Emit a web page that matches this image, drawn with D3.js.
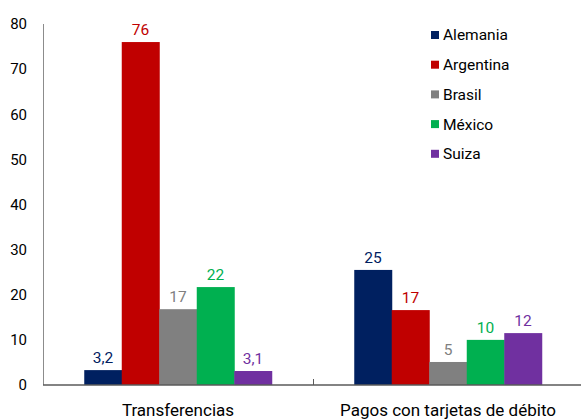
<!DOCTYPE html>
<html>
<head>
<meta charset="utf-8">
<script src="https://cdn.jsdelivr.net/npm/d3@7"></script>
<style>
  body { margin: 0; background: white; }
  svg { font-family: Roboto, "Noto Sans", sans-serif; display: block; }
</style>
</head>
<body>
<svg width="581" height="419"></svg>
<script>
var categories = ["Transferencias", "Pagos con tarjetas de débito"];
var countries = ["Alemania", "Argentina", "Brasil", "México", "Suiza"];
var colors = ["#002060", "#C00000", "#808080", "#00B050", "#7030A0"];

var transferValues = [3.3, 76, 16.8, 21.7, 3.1];
var debitValues = [25.5, 16.6, 5.1, 10, 11.5];
var transferLabels = ["3,2", "76", "17", "22", "3,1"];
var debitLabels = ["25", "17", "5", "10", "12"];

var yTicks = [0, 10, 20, 30, 40, 50, 60, 70, 80];

var svg = d3.select("svg");

var padLeft = 43, padRight = 583, padTop = 24, padBottom = 385;

var x0 = d3.scaleBand()
  .domain(categories)
  .range([padLeft, padRight])
  .paddingInner(0)
  .paddingOuter(0);

var x1 = d3.scaleBand()
  .domain(countries)
  .range([0, x0.bandwidth()])
  .paddingOuter(1.1)
  .paddingInner(0);

var y = d3.scaleLinear()
  .domain([0, 80])
  .range([padBottom, padTop]);

var color = d3.scaleOrdinal().domain(countries).range(colors);

var data = [];
categories.forEach(function (c, ci) {
  var vals = ci === 0 ? transferValues : debitValues;
  var labs = ci === 0 ? transferLabels : debitLabels;
  countries.forEach(function (k, i) {
    data.push({"cat": c, "country": k, "value": vals[i], "label": labs[i]});
  });
});

// y axis labels
svg.selectAll(".ytick")
  .data(yTicks)
.enter().append("text")
  .attr("class", "ytick")
  .attr("x", 27)
  .attr("y", function (d) { return y(d); })
  .attr("dy", "0.35em")
  .attr("text-anchor", "end")
  .style("font-size", "15px")
  .style("fill", "#000")
  .text(function (d) { return d; });

// bars (slightly widened so neighbours touch)
svg.selectAll(".bar")
  .data(data)
.enter().append("rect")
  .attr("class", "bar")
  .attr("x", function (d) { return x0(d.cat) + x1(d.country); })
  .attr("y", function (d) { return y(d.value); })
  .attr("width", x1.bandwidth() + 0.5)
  .attr("height", function (d) { return y(0) - y(d.value); })
  .style("fill", function (d) { return color(d.country); });

// value labels
svg.selectAll(".vlabel")
  .data(data)
.enter().append("text")
  .attr("class", "vlabel")
  .attr("x", function (d) { return x0(d.cat) + x1(d.country) + x1.bandwidth() / 2; })
  .attr("y", function (d) { return y(d.value) - 7; })
  .attr("text-anchor", "middle")
  .style("font-size", "15.5px")
  .style("fill", function (d) { return color(d.country); })
  .text(function (d) { return d.label; });

// axes lines
svg.append("line")
  .attr("x1", padLeft + 0.5).attr("x2", padLeft + 0.5)
  .attr("y1", padTop).attr("y2", padBottom)
  .style("stroke", "#8c8c8c").style("stroke-width", 1);

svg.append("line")
  .attr("x1", padLeft).attr("x2", 581)
  .attr("y1", padBottom).attr("y2", padBottom)
  .style("stroke", "#5a5a5a").style("stroke-width", 1.5);

// category separator tick
svg.append("line")
  .attr("x1", x0(categories[1]) + 0.5).attr("x2", x0(categories[1]) + 0.5)
  .attr("y1", padBottom - 6).attr("y2", padBottom)
  .style("stroke", "#5a5a5a").style("stroke-width", 1);

// category labels
svg.selectAll(".xlabel")
  .data(categories)
.enter().append("text")
  .attr("class", "xlabel")
  .attr("x", function (d) { return x0(d) + x0.bandwidth() / 2; })
  .attr("y", 416)
  .attr("text-anchor", "middle")
  .style("font-size", "17px")
  .style("fill", "#000")
  .text(function (d) { return d; });

// legend
var legend = svg.selectAll(".legend")
  .data(countries)
.enter().append("g")
  .attr("class", "legend")
  .attr("transform", function (d, i) { return "translate(431," + (35 + i * 29.7) + ")"; });

legend.append("rect")
  .attr("x", 0).attr("y", -4)
  .attr("width", 8).attr("height", 8)
  .style("fill", function (d) { return color(d); });

legend.append("text")
  .attr("x", 12)
  .attr("y", 0)
  .attr("dy", "0.35em")
  .style("font-size", "15.5px")
  .style("fill", "#000")
  .text(function (d) { return d; });
</script>
</body>
</html>
